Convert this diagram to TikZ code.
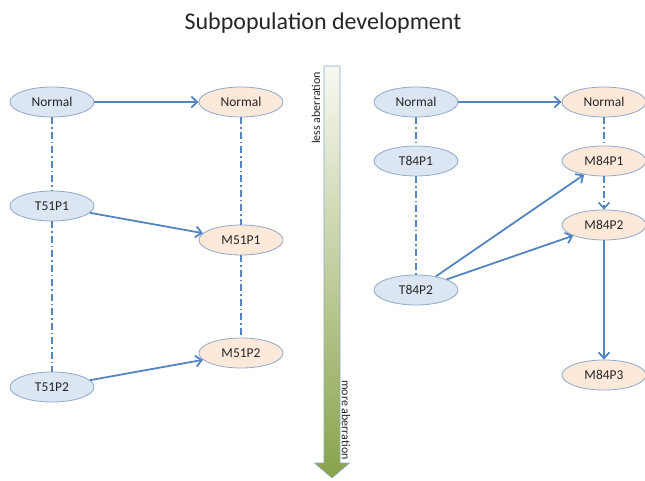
\documentclass[tikz,border=0pt]{standalone}
\usepackage{fontspec}
\setmainfont{Carlito}
\usetikzlibrary{shapes.geometric,arrows.meta}

\definecolor{edgeblue}{HTML}{8FA9CC}
\definecolor{lineblue}{HTML}{5485C0}
\definecolor{tumfill}{HTML}{DCE6F2}
\definecolor{metfill}{HTML}{FCE9DA}
\definecolor{shafttop}{HTML}{F7F9F1}
\definecolor{shaftbot}{HTML}{89A34A}
\definecolor{inktext}{HTML}{262626}

\tikzstyle{tumour}=[ellipse,draw=edgeblue,fill=tumfill,line width=0.8pt,minimum width=84pt,minimum height=30pt,inner sep=0pt,text=inktext,font=\fontsize{13.5}{16}\selectfont]
\tikzstyle{metast}=[ellipse,draw=edgeblue,fill=metfill,line width=0.8pt,minimum width=84pt,minimum height=30pt,inner sep=0pt,text=inktext,font=\fontsize{13.5}{16}\selectfont]
\tikzstyle{link}=[draw=lineblue,line width=1.6pt,dash pattern=on 7pt off 3pt on 1.5pt off 3pt]
\tikzstyle{spread}=[draw=lineblue,line width=1.8pt,-{Straight Barb[length=6pt,width=11pt,line width=1.8pt]}]
\tikzstyle{sidenote}=[inner sep=0pt,text=inktext,font=\fontsize{12}{14}\selectfont]

\begin{document}
\begin{tikzpicture}[x=1pt,y=-1pt]
	\useasboundingbox (0,0) rectangle (645,480);
	%Title
	\node[anchor=base,text=inktext,font=\fontsize{24}{28}\selectfont] (title) at (323,29) {Subpopulation development};
	%Aberration arrow
	\draw[draw=edgeblue,line width=0.6pt,top color=shafttop,bottom color=shaftbot]
		(324,66) -- (340,66) -- (340,463) -- (349.5,463) -- (332,478) -- (314.5,463) -- (324,463) -- cycle;
	\node[sidenote,rotate=90] (less) at (316,108) {less aberration};
	\node[sidenote,rotate=-90] (more) at (346,420) {more aberration};
	%Left pair, tumour
	\foreach \pos/\name/\txt in {{(52,102)/tn51/Normal}, {(52,206)/t51p1/T51P1}, {(52,387)/t51p2/T51P2}}
		\node[tumour] (\name) at \pos {\txt};
	%Left pair, metastasis
	\foreach \pos/\name/\txt in {{(241,102)/mn51/Normal}, {(241,240)/m51p1/M51P1}, {(241,353)/m51p2/M51P2}}
		\node[metast] (\name) at \pos {\txt};
	%Right pair, tumour
	\foreach \pos/\name/\txt in {{(416,102)/tn84/Normal}, {(416,161)/t84p1/T84P1}, {(416,290)/t84p2/T84P2}}
		\node[tumour] (\name) at \pos {\txt};
	%Right pair, metastasis
	\foreach \pos/\name/\txt in {{(604,102)/mn84/Normal}, {(604,161)/m84p1/M84P1}, {(604,225)/m84p2/M84P2}, {(604,375)/m84p3/M84P3}}
		\node[metast] (\name) at \pos {\txt};
	%Lineage
	\foreach \a/\b in {tn51/t51p1, t51p1/t51p2, mn51/m51p1, m51p1/m51p2, tn84/t84p1, t84p1/t84p2, mn84/m84p1}
		\draw[link] (\a) -- (\b);
	\draw[link,-{Straight Barb[length=6pt,width=11pt,line width=1.6pt]}] (m84p1) -- (m84p2);
	%Spread
	\foreach \a/\b in {tn51/mn51, t51p1/m51p1, t51p2/m51p2, tn84/mn84, t84p2/m84p1, t84p2/m84p2, m84p2/m84p3}
		\draw[spread] (\a) -- (\b);
\end{tikzpicture}
\end{document}
